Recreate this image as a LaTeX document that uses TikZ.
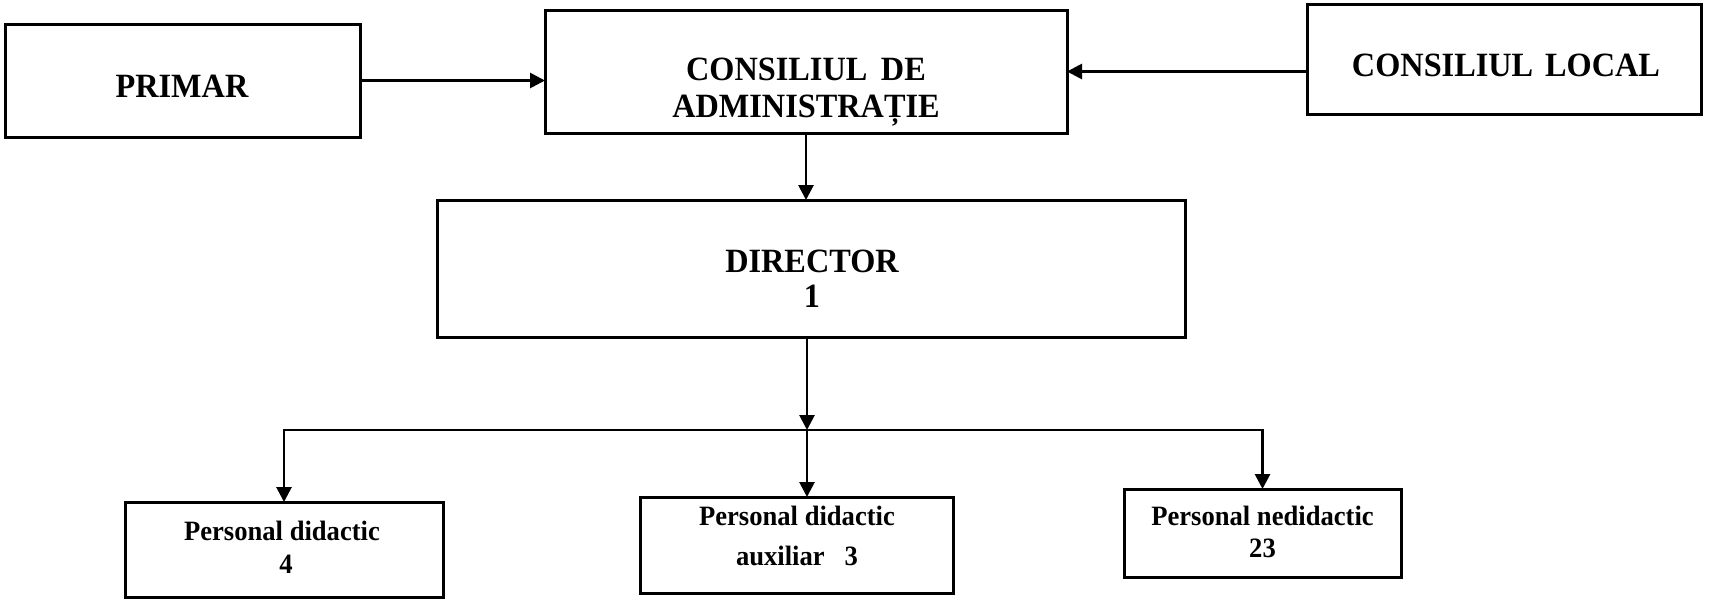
\documentclass[tikz,border=0pt]{standalone}
\usepackage{fontspec}
\setmainfont{Liberation Serif}[FakeStretch=0.95]
\usetikzlibrary{arrows.meta}
\begin{document}
\begin{tikzpicture}[x=0.5pt,y=-0.5pt,
  box/.style={draw, line width=1.5pt, rectangle, inner sep=0pt, outer sep=0pt},
  big/.style={font=\fontsize{17}{20}\selectfont\bfseries, inner sep=0pt, anchor=base},
  small/.style={font=\fontsize{14}{16}\selectfont\bfseries, inner sep=0pt, anchor=base},
  arr/.style={line width=1.4pt, -{Triangle[length=7.5pt,width=7.5pt]}}]
\fill[white] (0,0) rectangle (1709,605);
\useasboundingbox (0,0) rectangle (1709,605);
% boxes
\node[box, minimum width=177.5pt, minimum height=56.5pt] (primar) at (182.5,80.5) {};
\node[box, minimum width=261pt, minimum height=61.5pt] (ca) at (806,71.5) {};
\node[box, minimum width=197pt, minimum height=55pt] (cl) at (1504,59) {};
\node[box, minimum width=374pt, minimum height=68.5pt] (director) at (811,268.5) {};
\node[box, minimum width=159pt, minimum height=47.5pt] (box1) at (284,549.5) {};
\node[box, minimum width=156.5pt, minimum height=48pt] (box2) at (796.5,545) {};
\node[box, minimum width=138.5pt, minimum height=44pt] (box3) at (1262.5,533) {};
% texts
\node[big] (tprimar) at (182,97) {PRIMAR};
\node[big] (tca1) at (806,80.5) {CONSILIUL\hspace{0.4em}DE};
\node[big] (tca2) at (806,117) {ADMINISTRAȚIE};
\node[big] (tcl) at (1506,76) {CONSILIUL\hspace{0.35em}LOCAL};
\node[big] (tdir1) at (812,272) {DIRECTOR};
\node[big] (tdir2) at (812,307) {1};
\node[small] (tb11) at (282,540) {Personal didactic};
\node[small] (tb12) at (286,573) {4};
\node[small] (tb21) at (797,525) {Personal didactic};
\node[small] (tb22) at (797,565) {auxiliar\ \ \ 3};
\node[small] (tb31) at (1262.5,525) {Personal nedidactic};
\node[small] (tb32) at (1262.5,557) {23};
% connectors
\draw[arr] (primar.east) -- (primar.east -| ca.west);
\draw[arr] (cl.west |- ca.east) -- (ca.east);
\draw[arr] (ca.south) -- (ca.south |- director.north);
\coordinate (bus) at (807,430);
\draw[arr] (director.south -| bus) -- (bus);
\draw[arr] (bus) -- (bus |- box2.north);
\draw[arr] (bus) -| (box1.north);
\draw[arr] (bus) -| (box3.north);
\end{tikzpicture}
\end{document}
